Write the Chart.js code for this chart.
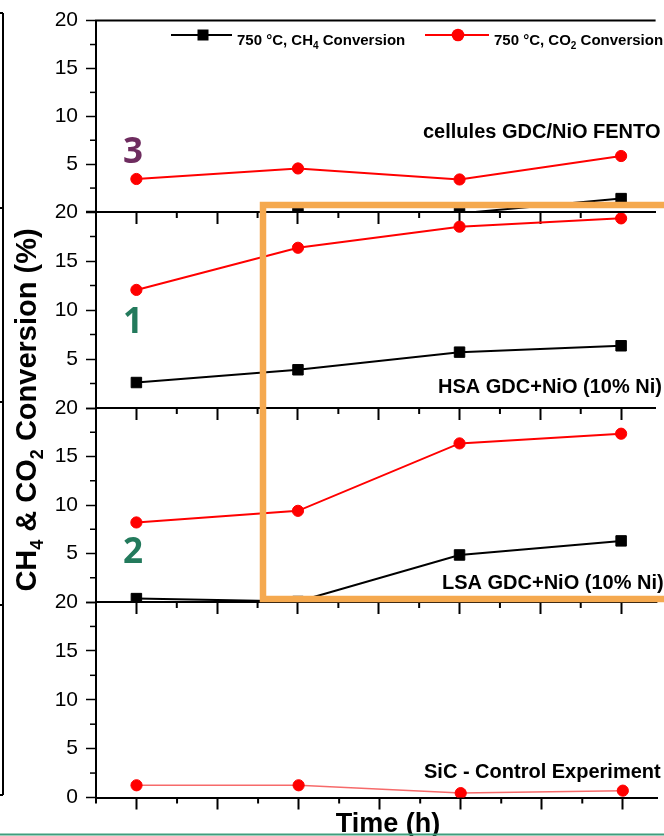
<!DOCTYPE html>
<html><head><meta charset="utf-8">
<script src="https://cdn.jsdelivr.net/npm/chart.js@4.4.1/dist/chart.umd.min.js"></script>
<style>
html,body{margin:0;padding:0;background:#fff;}
#wrap{position:relative;width:664px;height:836px;overflow:hidden;background:#fff;}
#wrap canvas{position:absolute;left:0;top:0;}
</style></head><body>
<div id="wrap">
<canvas id="c1" width="664" height="836"></canvas>
<canvas id="c2" width="664" height="836"></canvas>
<canvas id="c3" width="664" height="836"></canvas>
<canvas id="c4" width="664" height="836"></canvas>
</div>
<script>
// ---- data ----
const timePoints = [1, 2, 3, 4];
const panelNames = ['cellules GDC/NiO FENTO', 'HSA GDC+NiO (10% Ni)', 'LSA GDC+NiO (10% Ni)', 'SiC - Control Experiment'];
const ch4Cellules = [-0.8, -0.15, -0.15, 1.4];
const co2Cellules = [3.45, 4.55, 3.4, 5.85];
const ch4HSA = [2.6, 3.9, 5.7, 6.35];
const co2HSA = [12.05, 16.35, 18.5, 19.35];
const ch4LSA = [0.35, 0.05, 4.85, 6.3];
const co2LSA = [8.2, 9.4, 16.35, 17.35];
const co2SiC = [1.25, 1.25, 0.45, 0.7];
const panelNumbers = ['3', '1', '2'];
const legendCH4 = [{t: '750 °C, CH'}, {t: '4', sub: true}, {t: ' Conversion'}];
const legendCO2 = [{t: '750 °C, CO'}, {t: '2', sub: true}, {t: ' Conversion'}];
const yTitle = [{t: 'CH'}, {t: '4', sub: true}, {t: ' & CO'}, {t: '2', sub: true}, {t: ' Conversion (%)'}];
const xTitle = 'Time (h)';

// ---- layout ----
const W = 664, H = 836;
const X_MIN = 0.75, X_MAX = 0.75 + 568 / 164;
const FONT = '"Liberation Sans", Arial, sans-serif';

const panels = [
  {canvas: 'c1', top: 18, bottom: 212, ch4: ch4Cellules, co2: co2Cellules, name: panelNames[0], nx: 423, ny: 138, zero: false},
  {canvas: 'c2', top: 212, bottom: 408, ch4: ch4HSA, co2: co2HSA, name: panelNames[1], nx: 438, ny: 393, zero: false},
  {canvas: 'c3', top: 408, bottom: 602, ch4: ch4LSA, co2: co2LSA, name: panelNames[2], nx: 442, ny: 589, zero: false},
  {canvas: 'c4', top: 602, bottom: 797.5, ch4: null, co2: co2SiC, name: panelNames[3], nx: 424, ny: 778, zero: true, lightLine: true}
];

const isMajorX = v => Math.abs(v * 2 - Math.round(v * 2)) < 1e-6;
const isMajorY = v => Math.abs(v / 5 - Math.round(v / 5)) < 1e-6;

function drawParts(ctx, parts, x, y, font, subFont, subDy) {
  let cx = x;
  parts.forEach(p => {
    ctx.font = p.sub ? subFont : font;
    ctx.fillText(p.t, cx, y + (p.sub ? subDy : 0));
    cx += ctx.measureText(p.t).width;
  });
  return cx;
}
function partsWidth(ctx, parts, font, subFont) {
  let w = 0;
  parts.forEach(p => { ctx.font = p.sub ? subFont : font; w += ctx.measureText(p.t).width; });
  return w;
}
function line(ctx, x1, y1, x2, y2) { ctx.beginPath(); ctx.moveTo(x1, y1); ctx.lineTo(x2, y2); ctx.stroke(); }

const panelDecor = {
  id: 'panelDecor',
  afterDraw(chart, args, opts) {
    const ctx = chart.ctx, xs = chart.scales.x, ys = chart.scales.y, ca = chart.chartArea;
    const p = opts.panel;
    ctx.save();
    ctx.strokeStyle = '#000';
    ctx.lineWidth = 2;
    // top frame
    line(ctx, ca.left - 1, ca.top, ca.right, ca.top);
    // minor x ticks
    xs.ticks.forEach(t => {
      if (!isMajorX(t.value)) { const px = xs.getPixelForValue(t.value); line(ctx, px, ca.bottom, px, ca.bottom + 6); }
    });
    // minor y ticks
    ctx.lineWidth = 1.5;
    ys.ticks.forEach(t => {
      if (!isMajorY(t.value)) { const py = ys.getPixelForValue(t.value); line(ctx, ys.right - 6, py, ys.right, py); }
    });
    // panel label
    ctx.fillStyle = '#000';
    ctx.font = 'bold 20px ' + FONT;
    ctx.textBaseline = 'alphabetic';
    ctx.textAlign = 'left';
    ctx.fillText(p.name, p.nx, p.ny);
    ctx.restore();
  }
};

const overlay = {
  id: 'overlay',
  afterDraw(chart) {
    const ctx = chart.ctx;
    ctx.save();
    ctx.textBaseline = 'alphabetic';
    ctx.textAlign = 'left';
    // legend
    const lf = 'bold 15px ' + FONT, ls = 'bold 10px ' + FONT;
    ctx.lineWidth = 2;
    ctx.strokeStyle = '#000'; ctx.fillStyle = '#000';
    line(ctx, 171, 35, 232, 35);
    ctx.fillRect(197.5, 29.5, 11, 11);
    drawParts(ctx, legendCH4, 237, 45, lf, ls, 4);
    ctx.strokeStyle = '#ff0000'; ctx.fillStyle = '#ff0000';
    line(ctx, 425, 35, 489, 35);
    ctx.beginPath(); ctx.arc(458, 35, 6.3, 0, Math.PI * 2); ctx.fill();
    ctx.fillStyle = '#000';
    drawParts(ctx, legendCO2, 494, 45, lf, ls, 4);

    // y title
    const tf = 'bold 29px ' + FONT, ts = 'bold 18px ' + FONT;
    const tw = partsWidth(ctx, yTitle, tf, ts);
    ctx.save();
    ctx.translate(36, 410);
    ctx.rotate(-Math.PI / 2);
    drawParts(ctx, yTitle, -tw / 2, 0, tf, ts, 7);
    ctx.restore();

    // x title
    ctx.font = 'bold 27px ' + FONT;
    ctx.textAlign = 'center';
    ctx.fillText(xTitle, 388, 832);

    // panel numbers
    ctx.font = 'bold 35px "Open Sans", "Noto Sans", sans-serif';
    ctx.fillStyle = '#6e2c5f'; ctx.fillText(panelNumbers[0], 133, 163);
    ctx.fillStyle = '#237a5c'; ctx.fillText(panelNumbers[1], 133, 333);
    ctx.fillText(panelNumbers[2], 133, 563);

    // orange highlight box
    ctx.strokeStyle = '#f5a94f';
    ctx.lineWidth = 6.5;
    ctx.strokeRect(263, 205, 460, 394);

    // left bracket from neighbouring figure
    ctx.strokeStyle = '#000';
    ctx.lineWidth = 2;
    line(ctx, 3, 13, 3, 795);
    [13, 208, 402, 605, 795].forEach(y => line(ctx, 0, y, 3, y));

    // bottom green rule
    ctx.strokeStyle = '#3f9e7d';
    ctx.lineWidth = 2;
    line(ctx, 0, 834.5, W, 834.5);
    ctx.restore();
  }
};

panels.forEach((p, i) => {
  const datasets = [];
  if (p.ch4) {
    datasets.push({
      label: 'CH4', data: timePoints.map((t, k) => ({x: t, y: p.ch4[k]})),
      borderColor: '#000', backgroundColor: '#000', borderWidth: 2,
      pointStyle: 'rect', pointRadius: 7.4, pointBorderWidth: 1, pointBackgroundColor: '#000', pointBorderColor: '#000', tension: 0
    });
  }
  datasets.push({
    label: 'CO2', data: timePoints.map((t, k) => ({x: t, y: p.co2[k]})),
    borderColor: p.lightLine ? 'rgba(245,90,90,0.9)' : '#ff0000', backgroundColor: '#ff0000', borderWidth: p.lightLine ? 1.5 : 2,
    pointStyle: 'circle', pointRadius: 5.6, pointBorderWidth: 1, pointBackgroundColor: '#ff0000', pointBorderColor: '#ff0000', tension: 0
  });
  const plugins = [panelDecor];
  if (i === panels.length - 1) plugins.push(overlay);
  new Chart(document.getElementById(p.canvas), {
    type: 'line',
    data: {datasets},
    plugins,
    options: {
      responsive: false, animation: false, devicePixelRatio: 1,
      layout: {padding: {top: p.top, bottom: H - p.bottom - 14, left: 0, right: 0}},
      plugins: {legend: {display: false}, tooltip: {enabled: false}, panelDecor: {panel: p}},
      scales: {
        x: {
          type: 'linear', min: X_MIN, max: X_MAX, position: 'bottom',
          ticks: {display: false, stepSize: 0.25, includeBounds: false},
          grid: {drawOnChartArea: false, tickLength: 12, tickWidth: 2,
                 tickColor: c => (c.tick && isMajorX(c.tick.value)) ? '#000' : 'rgba(0,0,0,0)'},
          border: {color: '#000', width: 2},
          afterFit: s => { s.height = 14; }
        },
        y: {
          type: 'linear', min: 0, max: 20, position: 'left',
          ticks: {stepSize: 2.5, autoSkip: false, padding: 8, color: '#000',
                  font: {family: FONT, size: 21},
                  callback: v => (isMajorY(v) && (v !== 0 || p.zero)) ? String(v) : ''},
          grid: {drawOnChartArea: false, tickLength: 10, tickWidth: 1.5,
                 tickColor: c => (c.tick && isMajorY(c.tick.value)) ? '#000' : 'rgba(0,0,0,0)'},
          border: {color: '#000', width: 2},
          afterFit: s => { s.width = 96; }
        }
      }
    }
  });
});
</script>
</body></html>
